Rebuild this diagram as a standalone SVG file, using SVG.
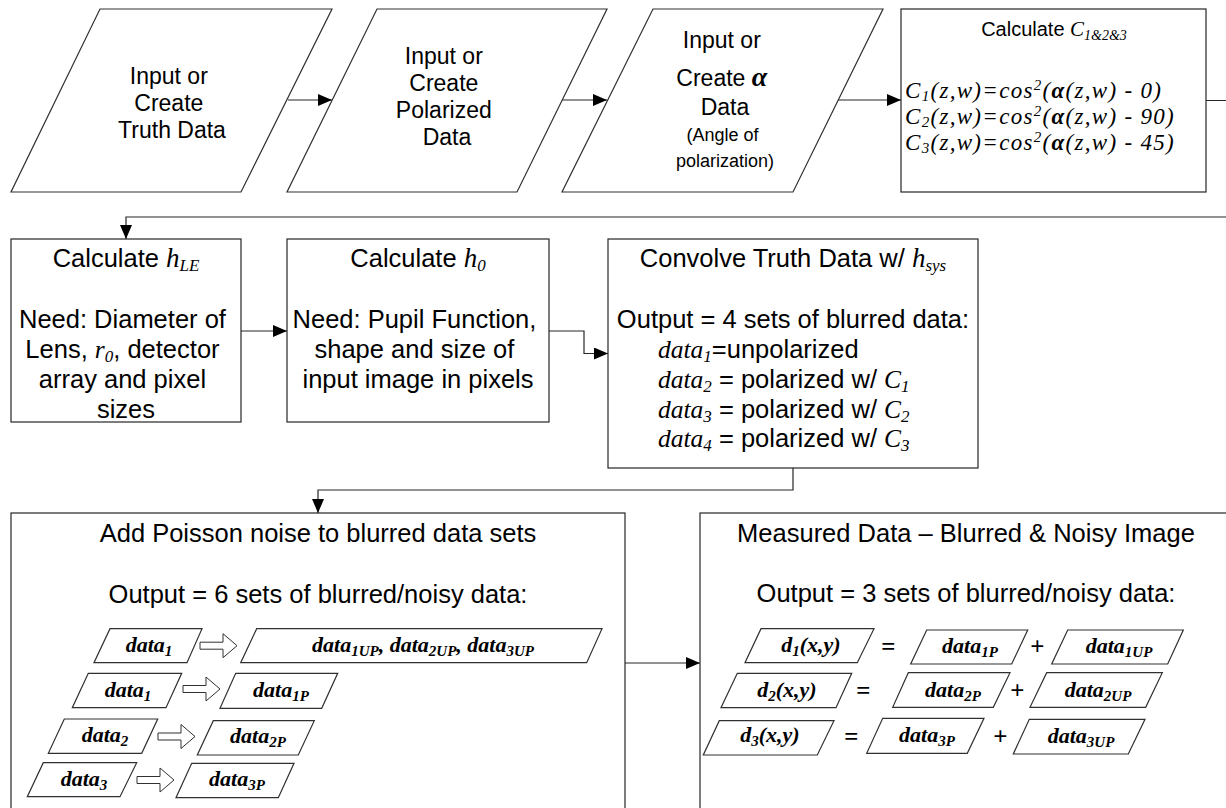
<svg xmlns="http://www.w3.org/2000/svg" xmlns:xlink="http://www.w3.org/1999/xlink" width="1226" height="808" viewBox="0 0 1226 808">
  <style>
    .box { fill: #fff; stroke: #262626; stroke-width: 1.2; }
    .io { fill: #fff; stroke: #303030; stroke-width: 1.2; }
    .con { fill: none; stroke: #262626; stroke-width: 1.2; }
    .t { font-family: "Liberation Sans", Arial, sans-serif; fill: #000; text-anchor: middle; }
    .l { font-family: "Liberation Sans", Arial, sans-serif; fill: #000; }
    .m { font-family: "Liberation Serif", "Times New Roman", serif; font-style: italic; }
    .f { font-family: "Liberation Serif", "Times New Roman", serif; font-style: italic; font-size: 23px; letter-spacing: 1.3px; fill: #000; }
    .mb { font-family: "Liberation Serif", "Times New Roman", serif; font-style: italic; font-weight: bold; fill: #000; text-anchor: middle; }
  </style>
  <defs>
    <marker id="arrow" markerUnits="userSpaceOnUse" markerWidth="14" markerHeight="12" refX="14" refY="6" orient="auto">
      <path d="M0,0 L14,6 L0,12 Z" fill="#000"/>
    </marker>
    <!-- hollow block arrow used between data sets -->
    <path id="blockArrow" d="M0,-3.5 H23 V-12 L37,0 L23,12 V3.5 H0 Z" fill="#fff" stroke="#303030" stroke-width="1"/>
  </defs>

  <!-- connectors -->
  <g id="connectors">
    <line class="con" x1="288" y1="100" x2="332" y2="100" marker-end="url(#arrow)"/>
    <line class="con" x1="562" y1="100" x2="607" y2="100" marker-end="url(#arrow)"/>
    <line class="con" x1="838" y1="100" x2="901" y2="100" marker-end="url(#arrow)"/>
    <path class="con" d="M1206,100.5 H1240 V217 H126 V239" marker-end="url(#arrow)"/>
    <line class="con" x1="241" y1="331" x2="287" y2="331" marker-end="url(#arrow)"/>
    <path class="con" d="M549,331 H584 V353.5 H608" marker-end="url(#arrow)"/>
    <path class="con" d="M793,468 V490 H318 V513" marker-end="url(#arrow)"/>
    <line class="con" x1="625" y1="663" x2="700" y2="663" marker-end="url(#arrow)"/>
  </g>

  <!-- top row: data inputs -->
  <g id="truth-data">
    <polygon class="io" points="100,9 332,9 241,192 11,192"/>
    <text class="t" font-size="23">
      <tspan x="172" y="84">Input or</tspan>
      <tspan x="172" y="111">Create</tspan>
      <tspan x="172" y="138">Truth Data</tspan>
    </text>
  </g>

  <g id="polarized-data">
    <polygon class="io" points="377,9 607,9 517,192 287,192"/>
    <text class="t" font-size="23">
      <tspan x="447" y="64">Input or</tspan>
      <tspan x="447" y="91">Create</tspan>
      <tspan x="447" y="118">Polarized</tspan>
      <tspan x="447" y="145">Data</tspan>
    </text>
  </g>

  <g id="alpha-data">
    <polygon class="io" points="653,9 883,9 793,192 562,192"/>
    <text class="t" font-size="23">
      <tspan x="725" y="48">Input or</tspan>
      <tspan x="725" y="86">Create <tspan class="m" font-weight="bold" font-size="28">α</tspan></tspan>
      <tspan x="725" y="115">Data</tspan>
    </text>
    <text class="t" font-size="18">
      <tspan x="725" y="141">(Angle of</tspan>
      <tspan x="725" y="167">polarization)</tspan>
    </text>
  </g>

  <g id="calc-c">
    <rect class="box" x="901" y="9" width="305" height="183"/>
    <text class="t" x="1054" y="36" font-size="20">Calculate <tspan class="m" font-size="21">C</tspan><tspan class="m" font-size="14" dy="4">1&amp;2&amp;3</tspan></text>
    <text class="f" x="905" y="98">C<tspan font-size="15" dy="3">1</tspan><tspan dy="-3">(z,w)=cos</tspan><tspan font-size="15" dy="-8">2</tspan><tspan dy="8">(</tspan><tspan font-weight="bold">α</tspan>(z,w) - 0)</text>
    <text class="f" x="905" y="124">C<tspan font-size="15" dy="3">2</tspan><tspan dy="-3">(z,w)=cos</tspan><tspan font-size="15" dy="-8">2</tspan><tspan dy="8">(</tspan><tspan font-weight="bold">α</tspan>(z,w) - 90)</text>
    <text class="f" x="905" y="150">C<tspan font-size="15" dy="3">3</tspan><tspan dy="-3">(z,w)=cos</tspan><tspan font-size="15" dy="-8">2</tspan><tspan dy="8">(</tspan><tspan font-weight="bold">α</tspan>(z,w) - 45)</text>
  </g>

  <!-- second row: system response -->
  <g id="calc-hle">
    <rect class="box" x="11" y="239" width="230" height="183"/>
    <text class="t" x="126" y="267" font-size="25.5">Calculate <tspan class="m" font-size="27">h</tspan><tspan class="m" font-size="17" dy="4">LE</tspan></text>
    <text class="t" font-size="25.5">
      <tspan x="126" y="328">Need: Diameter of</tspan>
      <tspan x="126" y="358">Lens, <tspan class="m">r</tspan><tspan class="m" font-size="17" dy="4">0</tspan><tspan dy="-4">, detector</tspan></tspan>
      <tspan x="126" y="388">array and pixel</tspan>
      <tspan x="126" y="418">sizes</tspan>
    </text>
  </g>

  <g id="calc-h0">
    <rect class="box" x="287" y="239" width="262" height="183"/>
    <text class="t" x="418" y="267" font-size="25.5">Calculate <tspan class="m" font-size="27">h</tspan><tspan class="m" font-size="17" dy="4">0</tspan></text>
    <text class="t" font-size="25.5">
      <tspan x="418" y="328">Need: Pupil Function,</tspan>
      <tspan x="418" y="358">shape and size of</tspan>
      <tspan x="418" y="388">input image in pixels</tspan>
    </text>
  </g>

  <g id="convolve">
    <rect class="box" x="608" y="239" width="370" height="229"/>
    <text class="t" x="793" y="267" font-size="25.5">Convolve Truth Data w/ <tspan class="m" font-size="27">h</tspan><tspan class="m" font-size="17" dy="4">sys</tspan></text>
    <text class="t" x="793" y="328" font-size="25.5">Output = 4 sets of blurred data:</text>
    <text class="l" font-size="25.5">
      <tspan x="658" y="358"><tspan class="m">data</tspan><tspan class="m" font-size="17" dy="4">1</tspan><tspan dy="-4">=unpolarized</tspan></tspan>
      <tspan x="658" y="388"><tspan class="m">data</tspan><tspan class="m" font-size="17" dy="4">2</tspan><tspan dy="-4"> = polarized w/ </tspan><tspan class="m">C</tspan><tspan class="m" font-size="17" dy="4">1</tspan></tspan>
      <tspan x="658" y="418"><tspan class="m">data</tspan><tspan class="m" font-size="17" dy="4">3</tspan><tspan dy="-4"> = polarized w/ </tspan><tspan class="m">C</tspan><tspan class="m" font-size="17" dy="4">2</tspan></tspan>
      <tspan x="658" y="447"><tspan class="m">data</tspan><tspan class="m" font-size="17" dy="4">4</tspan><tspan dy="-4"> = polarized w/ </tspan><tspan class="m">C</tspan><tspan class="m" font-size="17" dy="4">3</tspan></tspan>
    </text>
  </g>

  <!-- third row: noise and measured data -->
  <g id="add-noise">
    <rect class="box" x="11" y="513" width="614" height="300"/>
    <text class="t" x="318" y="542" font-size="25.5">Add Poisson noise to blurred data sets</text>
    <text class="t" x="318" y="603" font-size="25.5">Output = 6 sets of blurred/noisy data:</text>

    <polygon class="io" points="110,628.7 202,628.7 187,662.7 94,662.7"/>
    <text class="mb" x="149" y="652" font-size="22">data<tspan font-size="15" dy="4">1</tspan></text>
    <use xlink:href="#blockArrow" x="200" y="645.7"/>
    <polygon class="io" points="256.7,628.7 602,628.7 586.7,662.7 240.7,662.7"/>
    <text class="mb" x="423" y="652" font-size="22">data<tspan font-size="15" dy="4">1UP</tspan><tspan dy="-4">, data</tspan><tspan font-size="15" dy="4">2UP</tspan><tspan dy="-4">, data</tspan><tspan font-size="15" dy="4">3UP</tspan></text>

    <polygon class="io" points="88.3,673.3 181.7,673.3 166,707.7 72.3,707.7"/>
    <text class="mb" x="128" y="697" font-size="22">data<tspan font-size="15" dy="4">1</tspan></text>
    <use xlink:href="#blockArrow" x="183" y="689"/>
    <polygon class="io" points="235.7,673.3 337.7,673.3 321.7,708.3 220,708.3"/>
    <text class="mb" x="281" y="697" font-size="22">data<tspan font-size="15" dy="4">1P</tspan></text>

    <polygon class="io" points="64.3,719 157.7,719 141.7,753.3 48.3,753.3"/>
    <text class="mb" x="105" y="742" font-size="22">data<tspan font-size="15" dy="4">2</tspan></text>
    <use xlink:href="#blockArrow" x="158" y="736.5"/>
    <polygon class="io" points="213.3,720.7 314.3,720.7 298.3,755 197.3,755"/>
    <text class="mb" x="258" y="743" font-size="22">data<tspan font-size="15" dy="4">2P</tspan></text>

    <polygon class="io" points="43.3,762.7 136.7,762.7 120,796.7 27.3,796.7"/>
    <text class="mb" x="84" y="786" font-size="22">data<tspan font-size="15" dy="4">3</tspan></text>
    <use xlink:href="#blockArrow" x="137" y="780"/>
    <polygon class="io" points="191.7,763.3 294,763.3 278.3,797.7 176,797.7"/>
    <text class="mb" x="237" y="786" font-size="22">data<tspan font-size="15" dy="4">3P</tspan></text>
  </g>

  <g id="measured-data">
    <rect class="box" x="700" y="513" width="532" height="300"/>
    <text class="t" x="966" y="542" font-size="25.5">Measured Data – Blurred &amp; Noisy Image</text>
    <text class="t" x="966" y="602" font-size="25.5">Output = 3 sets of blurred/noisy data:</text>

    <polygon class="io" points="761,628.7 874,628.7 857.3,662.7 745,662.7"/>
    <text class="mb" x="811" y="652" font-size="22">d<tspan font-size="15" dy="4">1</tspan><tspan dy="-4">(x,y)</tspan></text>
    <text class="mb" x="888" y="655" font-size="25">=</text>
    <polygon class="io" points="926.7,630 1027.7,630 1011.7,664 910.7,664"/>
    <text class="mb" x="970" y="653" font-size="22">data<tspan font-size="15" dy="4">1P</tspan></text>
    <text class="mb" x="1037" y="655" font-size="25">+</text>
    <polygon class="io" points="1067.7,630 1183.3,630 1167.7,664 1051.7,664"/>
    <text class="mb" x="1119" y="653" font-size="22">data<tspan font-size="15" dy="4">1UP</tspan></text>

    <polygon class="io" points="737.3,673.3 851.7,673.3 836,707.7 721,707.7"/>
    <text class="mb" x="787" y="697" font-size="22">d<tspan font-size="15" dy="4">2</tspan><tspan dy="-4">(x,y)</tspan></text>
    <text class="mb" x="863" y="699" font-size="25">=</text>
    <polygon class="io" points="908.3,672.7 1010,672.7 993.3,707.3 892.7,707.3"/>
    <text class="mb" x="953" y="697" font-size="22">data<tspan font-size="15" dy="4">2P</tspan></text>
    <text class="mb" x="1017" y="699" font-size="25">+</text>
    <polygon class="io" points="1046.7,672.7 1162.3,672.7 1145.7,707.3 1030,707.3"/>
    <text class="mb" x="1098" y="697" font-size="22">data<tspan font-size="15" dy="4">2UP</tspan></text>

    <polygon class="io" points="719.3,720.7 834,720.7 817.3,755 703.3,755"/>
    <text class="mb" x="770" y="742" font-size="22">d<tspan font-size="15" dy="4">3</tspan><tspan dy="-4">(x,y)</tspan></text>
    <text class="mb" x="851" y="745" font-size="25">=</text>
    <polygon class="io" points="882.7,718.3 984,718.3 967.3,753.3 866.7,753.3"/>
    <text class="mb" x="927" y="742" font-size="22">data<tspan font-size="15" dy="4">3P</tspan></text>
    <text class="mb" x="1000" y="745" font-size="25">+</text>
    <polygon class="io" points="1029.3,719.3 1145,719.3 1128.3,754 1013.3,754"/>
    <text class="mb" x="1081" y="743" font-size="22">data<tspan font-size="15" dy="4">3UP</tspan></text>
  </g>
</svg>
